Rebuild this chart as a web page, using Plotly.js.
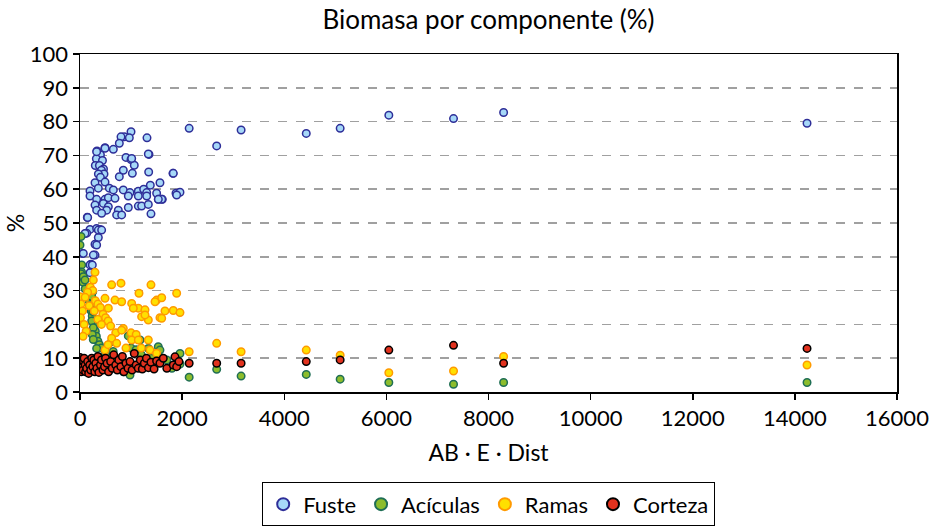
<!DOCTYPE html>
<html>
<head>
<meta charset="utf-8">
<script src="https://cdn.plot.ly/plotly-3.0.1.min.js"></script>
<style>html,body{margin:0;padding:0;background:#fff;}#chart{width:937px;height:531px;}</style>
</head>
<body>
<div id="chart"></div>
<script>
// ---- Data ----
var seriesNames = ["Fuste", "Acículas", "Ramas", "Corteza"];

var fusteX = [2138, 2677, 3155, 4431, 5095, 6048, 7315, 8296, 14238,
  999, 868, 803, 966, 1312, 770, 333, 490, 653, 1351,
  400, 320, 440, 300, 380, 460, 900, 999, 1063, 848,
  420, 470, 360, 400, 1025, 1345, 1821, 770, 294, 490,
  359, 1566, 1377, 574, 653, 196, 848, 979, 1142, 1247,
  1306, 1501, 1880, 1958, 196, 326, 490, 555, 685, 946,
  1142, 1306, 1534, 1612, 1893, 294, 457, 555, 522, 326,
  424, 750, 946, 1142, 1207, 1338, 718, 816, 1390, 143,
  196, 326, 392, 131, 359, 294, 45, 294, 215,
  326, 490, 1012, 1338, 1827, 150, 98, 261, 359, 424, 326, 65, 196, 241, 196, 1600, 1534];
var fusteY = [78.0, 72.8, 77.5, 76.5, 78.0, 81.9, 80.9, 82.7, 79.5,
  77.0, 75.5, 75.5, 75.2, 75.2, 73.6, 71.3, 72.3, 71.8, 70.3,
  70.2, 69.0, 68.5, 67.0, 67.0, 66.0, 69.4, 68.8, 67.1, 65.6,
  65.6, 64.5, 64.5, 63.5, 64.7, 65.1, 64.7, 63.7, 61.9, 62.1,
  60.3, 61.9, 61.2, 60.3, 59.8, 59.5, 59.8, 59.0, 59.4, 60.0,
  59.0, 58.8, 58.8, 59.1, 58.0, 57.0, 57.0, 57.5, 57.3, 58.0,
  58.0, 58.0, 57.0, 57.0, 58.3, 55.3, 55.8, 54.8, 53.8, 53.8,
  52.9, 53.8, 54.6, 55.0, 55.0, 55.5, 52.4, 52.4, 52.7, 51.7,
  48.1, 48.4, 48.1, 47.0, 45.7, 43.7, 41.0, 40.5, 37.8,
  71.1, 72.1, 69.1, 70.4, 64.7, 51.6, 46.9, 40.5, 47.9, 47.9, 43.5, 41.0, 37.6, 37.6, 35.3, 57.0, 57.0];

var aciculasX = [20, 0, 33, 30, 40, 50, 15, 60, 65, 98,
  100, 150, 180, 200, 220, 240, 260, 280, 300, 320,
  350, 380, 420, 457, 326, 500, 587, 620, 650, 700,
  750, 800, 913, 979, 850, 946, 1077, 1175, 1000, 1100,
  1200, 1338, 1250, 1400, 1533, 1566, 1553, 1500, 1958, 1958,
  1700, 1800, 250, 230, 250, 250, 230, 260, 240, 260,
  2138, 2677, 3155, 4431, 5095, 6048, 7315, 8296, 14238];
var aciculasY = [46.0, 43.5, 37.6, 35.5, 34.5, 33.5, 35.0, 32.5, 34.1, 33.1,
  30.5, 28.5, 27.0, 25.5, 24.0, 22.5, 21.0, 19.5, 18.0, 16.5,
  15.0, 14.0, 13.0, 10.4, 12.9, 11.5, 9.5, 14.9, 12.0, 10.0,
  8.0, 7.0, 7.5, 5.0, 6.0, 16.6, 16.2, 15.4, 13.0, 12.5,
  11.0, 12.9, 9.0, 10.0, 13.4, 12.4, 10.4, 8.5, 11.4, 8.3,
  9.5, 7.0, 29.7, 28.2, 26.2, 23.8, 21.0, 19.0, 17.0, 15.5,
  4.4, 6.7, 4.7, 5.2, 3.8, 2.8, 2.3, 2.8, 2.8];

var ramasX = [294, 620, 803, 1390, 1893, 1155, 1501, 1600, 685, 816,
  1012, 1142, 1273, 1827, 1958, 1664, 1566, 1338, 848, 700,
  1000, 1100, 0, 20, 50, 10, 80, 120, 60, 261,
  200, 250, 150, 100, 300, 350, 400, 180, 280, 450,
  500, 550, 350, 420, 600, 816, 620, 718, 1012, 1142,
  1338, 1371, 490, 550, 900, 1200, 1500, 1469, 1044, 1207,
  1273, 1600, 490, 555,
  2138, 2677, 3155, 4431, 5095, 6048, 7315, 8296, 14238];
var ramasY = [35.4, 31.7, 32.2, 31.7, 29.2, 29.2, 27.2, 27.9, 27.2, 26.7,
  26.2, 24.8, 24.3, 24.1, 23.5, 24.0, 22.0, 21.3, 18.8, 17.5,
  17.5, 17.0, 28.2, 26.0, 24.0, 22.0, 20.0, 18.0, 16.5, 33.1,
  31.0, 30.0, 29.5, 28.0, 27.0, 26.0, 25.0, 25.5, 24.0, 23.0,
  22.0, 21.0, 21.5, 20.0, 19.5, 18.3, 15.9, 14.4, 15.4, 15.4,
  15.4, 12.4, 12.4, 14.0, 13.0, 13.0, 11.5, 26.7, 24.8, 22.3,
  22.8, 21.8, 27.7, 24.8,
  11.9, 14.4, 11.9, 12.4, 10.9, 5.7, 6.2, 10.5, 8.0];

var cortezaX = [0, 0, 10, 20, 30, 40, 50, 60, 70, 80,
  100, 110, 130, 150, 170, 190, 210, 230, 250, 270,
  290, 310, 330, 350, 370, 400, 420, 450, 480, 500,
  530, 560, 600, 630, 660, 700, 730, 760, 800, 830,
  860, 900, 940, 980, 1020, 1063, 1100, 1140, 1180, 1220,
  1260, 1300, 1340, 1390, 1450, 1500, 1566, 1631, 1700, 1827,
  1860, 1893, 1938,
  2138, 2677, 3155, 4431, 5095, 6048, 7315, 8296, 14238];
var cortezaY = [10.2, 8.0, 7.0, 6.0, 9.5, 8.5, 7.5, 6.5, 9.0, 10.0,
  8.0, 6.0, 7.0, 9.0, 5.5, 8.0, 6.5, 10.0, 7.5, 9.5,
  6.0, 8.5, 7.0, 10.5, 5.8, 8.0, 9.5, 6.5, 7.5, 10.0,
  8.5, 6.0, 9.0, 7.0, 11.0, 8.0, 6.5, 9.5, 7.5, 10.5,
  6.0, 8.5, 7.0, 9.0, 6.5, 11.4, 8.0, 7.0, 9.5, 6.8,
  8.5, 10.0, 7.2, 8.8, 6.8, 9.2, 8.5, 10.0, 7.0, 8.0,
  10.4, 7.5, 9.0,
  8.5, 8.5, 8.5, 9.0, 9.5, 12.4, 13.8, 8.5, 12.9];

var yTickVals = [0, 10, 20, 30, 40, 50, 60, 70, 80, 90, 100];
var xTickVals = [0, 2000, 4000, 6000, 8000, 10000, 12000, 14000, 16000];

// ---- Styles ----
var FONT = "Lato, Open Sans, DejaVu Sans, sans-serif";
function mk(name, xs, ys, fill, line) {
  return {
    type: "scatter", mode: "markers", name: name, x: xs, y: ys,
    marker: {size: 7.5, color: fill, line: {color: line, width: 1.5}}
  };
}
var traces = [
  mk(seriesNames[0], fusteX, fusteY, "#a6d8f8", "#2e2e98"),
  mk(seriesNames[1], aciculasX, aciculasY, "#8cbd2c", "#1f6e55"),
  mk(seriesNames[2], ramasX, ramasY, "#ffe000", "#ff9a00"),
  mk(seriesNames[3], cortezaX, cortezaY, "#e2321e", "#000000")
];

var layout = {
  width: 937, height: 531,
  margin: {l: 80, r: 40, t: 54, b: 139},
  paper_bgcolor: "#ffffff", plot_bgcolor: "#ffffff",
  font: {family: FONT, size: 22, color: "#000"},
  title: {text: "Biomasa por componente (%)", font: {family: FONT, size: 26, color: "#000"},
          xref: "paper", x: 0.5, xanchor: "center", yref: "container", y: 0.962, yanchor: "middle"},
  showlegend: true,
  legend: {orientation: "h", x: 0.5, xanchor: "center", xref: "paper",
           yref: "container", y: 0.092, yanchor: "top",
           bordercolor: "#000", borderwidth: 1.2, font: {family: FONT, size: 22, color: "#000"},
           itemsizing: "constant", itemwidth: 30, tracegroupgap: 0},
  xaxis: {
    range: [0, 16000], tickvals: xTickVals, ticktext: xTickVals.map(String),
    showgrid: false, zeroline: false, showline: true, mirror: true, automargin: false,
    linecolor: "#000", linewidth: 1.5, ticks: "outside", ticklen: 6, tickcolor: "#000", tickwidth: 1.5,
    tickfont: {family: FONT, size: 22, color: "#000"},
    title: {text: "AB · E · Dist", font: {family: FONT, size: 23, color: "#000"}, standoff: 15}
  },
  yaxis: {
    range: [0, 100], tickvals: yTickVals, ticktext: yTickVals.map(String),
    showgrid: true, gridcolor: "#a0a0a0", griddash: "dash", gridwidth: 1.5,
    zeroline: false, showline: true, mirror: true, automargin: false,
    linecolor: "#000", linewidth: 1.5, ticks: "outside", ticklen: 6, tickcolor: "#000", tickwidth: 1.5,
    tickfont: {family: FONT, size: 22, color: "#000"},
    title: {text: "%", font: {family: FONT, size: 23, color: "#000"}}
  }
};

Plotly.newPlot("chart", traces, layout, {displayModeBar: false, staticPlot: true});
</script>
</body>
</html>
